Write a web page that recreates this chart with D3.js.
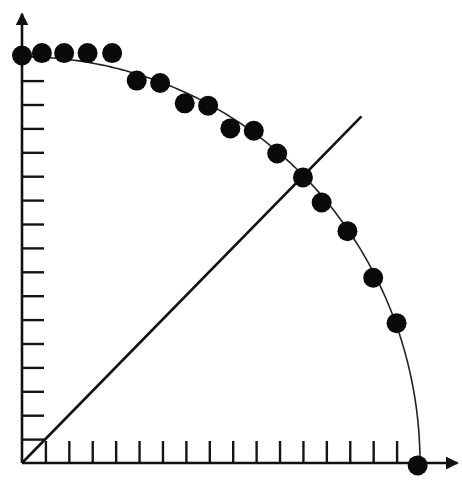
<!DOCTYPE html>
<html>
<head>
<meta charset="utf-8">
<script src="https://cdn.jsdelivr.net/npm/d3@7"></script>
<style>
  html, body { margin: 0; padding: 0; background: #fff; }
  svg { display: block; }
</style>
</head>
<body>
<svg id="chart" width="462" height="480"></svg>
<script>
// Measured points (x, y) in grid units
const pointX = [0, 0.85, 1.8, 2.8, 3.85, 4.9, 5.9, 6.95, 7.95, 8.9, 9.9, 10.9, 12.0, 12.8, 13.9, 15.0, 16.0, 16.9];
const pointY = [17.05, 17.15, 17.15, 17.15, 17.15, 16.0, 15.9, 15.05, 14.95, 14.0, 13.9, 12.95, 11.95, 10.9, 9.7, 7.75, 5.85, -0.1];
// Reference quarter circle radius and diagonal extent
const circleRadius = [17];
const diagonalEnd = [14.5];
// Tick positions on both axes
const tickValues = d3.range(1, 17);
const axisEnd = [18.6, 18.8];

const svg = d3.select("#chart");

const x = d3.scaleLinear().domain([0, 17]).range([22, 420]);
const y = d3.scaleLinear().domain([0, 17]).range([463, 56.7]);

// Arrowhead
svg.append("defs").append("marker")
  .attr("id", "arrow")
  .attr("viewBox", "0 0 10 10")
  .attr("refX", 9).attr("refY", 5)
  .attr("markerWidth", 5).attr("markerHeight", 5)
  .attr("markerUnits", "strokeWidth")
  .attr("orient", "auto")
  .append("path")
  .attr("d", "M0,0 L10,5 L0,10 Z")
  .attr("fill", "#111");

// Axes: ticks pointing inward, no labels
const xAxis = d3.axisBottom(x).tickValues(tickValues).tickSize(-22).tickFormat("").tickSizeOuter(0);
const yAxis = d3.axisLeft(y).tickValues(tickValues).tickSize(-22).tickFormat("").tickSizeOuter(0);

const gx = svg.append("g").attr("transform", `translate(0,${y(0)})`).call(xAxis);
const gy = svg.append("g").attr("transform", `translate(${x(0)},0)`).call(yAxis);
[gx, gy].forEach(g => {
  g.select(".domain").remove();
  g.selectAll(".tick line").attr("stroke", "#151515").attr("stroke-width", 2.4);
});

// Axis lines with arrows
svg.append("line")
  .attr("x1", x(0)).attr("y1", y(0))
  .attr("x2", x(axisEnd[0])).attr("y2", y(0))
  .attr("stroke", "#111").attr("stroke-width", 2.6)
  .attr("marker-end", "url(#arrow)");
svg.append("line")
  .attr("x1", x(0)).attr("y1", y(0))
  .attr("x2", x(0)).attr("y2", y(axisEnd[1]))
  .attr("stroke", "#111").attr("stroke-width", 2.6)
  .attr("marker-end", "url(#arrow)");

// Quarter circle
const arcPts = d3.range(0, 91, 0.5).map(a => {
  const t = a * Math.PI / 180;
  return [circleRadius[0] * Math.sin(t), circleRadius[0] * Math.cos(t)];
});
svg.append("path")
  .datum(arcPts)
  .attr("d", d3.line().x(d => x(d[0])).y(d => y(d[1])))
  .attr("fill", "none")
  .attr("stroke", "#222")
  .attr("stroke-width", 1.6);

// Diagonal y = x
svg.append("line")
  .attr("x1", x(0)).attr("y1", y(0))
  .attr("x2", x(diagonalEnd[0])).attr("y2", y(diagonalEnd[0]))
  .attr("stroke", "#111").attr("stroke-width", 2.6);

// Data points
svg.append("g")
  .selectAll("circle")
  .data(pointX.map((v, i) => [v, pointY[i]]))
  .join("circle")
  .attr("cx", d => x(d[0]))
  .attr("cy", d => y(d[1]))
  .attr("r", 10)
  .attr("fill", "#0a0a0a");
</script>
</body>
</html>
